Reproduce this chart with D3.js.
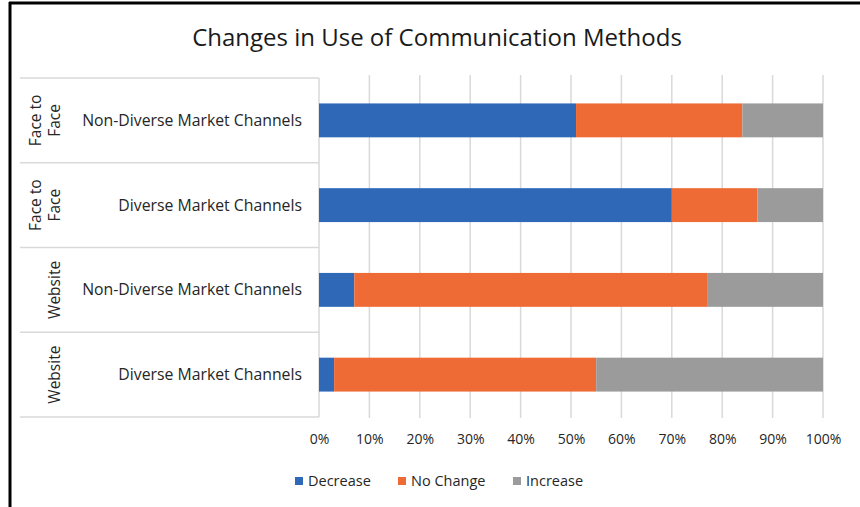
<!DOCTYPE html>
<html>
<head>
<meta charset="utf-8">
<script src="https://cdn.jsdelivr.net/npm/d3@7"></script>
<style>
  html, body { margin: 0; padding: 0; background: #fff; }
  svg { display: block; font-family: "Open Sans", Lato, sans-serif; }
</style>
</head>
<body>
<svg id="chart" width="860" height="507"></svg>
<script>
// Rows from top to bottom: method group and market channel
const groups = ["Face to\nFace", "Face to\nFace", "Website", "Website"];
const categories = ["Non-Diverse Market Channels", "Diverse Market Channels", "Non-Diverse Market Channels", "Diverse Market Channels"];
const seriesNames = ["Decrease", "No Change", "Increase"];
const decrease = [51, 70, 7, 3];
const noChange = [33, 17, 70, 52];
const increase = [16, 13, 23, 45];
const tickValues = [0, 10, 20, 30, 40, 50, 60, 70, 80, 90, 100];
const colors = ["#3068B8", "#EF6B35", "#9B9B9B"];

const svg = d3.select("#chart");
const W = 860, H = 507;
const plot = { left: 319, right: 823, top: 78, bottom: 417 };
const axisBoxLeft = 20;
const textColor = "#262626";

// frame lines along the top and left edge
svg.append("line").attr("x1", 9).attr("x2", W).attr("y1", 3).attr("y2", 3)
  .attr("stroke", "#000").attr("stroke-width", 3);
svg.append("line").attr("x1", 10).attr("x2", 10).attr("y1", 2).attr("y2", H)
  .attr("stroke", "#000").attr("stroke-width", 3);

// title
svg.append("text").attr("x", 437).attr("y", 46).attr("text-anchor", "middle")
  .attr("font-size", 24).attr("fill", "#1a1a1a")
  .text("Changes in Use of Communication Methods");

const rows = categories.map((c, i) => ({
  key: i, group: groups[i], category: c,
  Decrease: decrease[i], "No Change": noChange[i], Increase: increase[i]
}));

const x = d3.scaleLinear().domain([0, 100]).range([plot.left, plot.right]);
const y = d3.scaleBand().domain(rows.map(d => d.key)).range([plot.top, plot.bottom])
  .paddingInner(0.6).paddingOuter(0.3);
const band = d3.scaleBand().domain(rows.map(d => d.key)).range([plot.top, plot.bottom]);
const color = d3.scaleOrdinal().domain(seriesNames).range(colors);

// vertical gridlines
svg.append("g").selectAll("line").data(tickValues.slice(1)).join("line")
  .attr("x1", d => x(d)).attr("x2", d => x(d))
  .attr("y1", plot.top - 3).attr("y2", plot.bottom + 1)
  .attr("stroke", "#d9d9d9").attr("stroke-width", 1.5);

// category axis boxes
const axisG = svg.append("g");
const dividers = [plot.top].concat(rows.map(d => band(d.key) + band.bandwidth()));
axisG.selectAll("line.div").data(dividers).join("line").attr("class", "div")
  .attr("x1", axisBoxLeft).attr("x2", plot.left)
  .attr("y1", d => d).attr("y2", d => d)
  .attr("stroke", "#d9d9d9").attr("stroke-width", 1.5);
axisG.append("line").attr("x1", plot.left).attr("x2", plot.left)
  .attr("y1", plot.top).attr("y2", plot.bottom)
  .attr("stroke", "#d9d9d9").attr("stroke-width", 1.5);

// category labels
axisG.selectAll("text.cat").data(rows).join("text").attr("class", "cat")
  .attr("x", 302).attr("y", d => band(d.key) + band.bandwidth() / 2)
  .attr("dy", "0.35em").attr("text-anchor", "end")
  .attr("font-size", 15.8).attr("fill", textColor)
  .text(d => d.category);

// group labels, rotated
axisG.selectAll("g.grp").data(rows).join("g").attr("class", "grp")
  .attr("transform", d => `translate(0,${band(d.key) + band.bandwidth() / 2})`)
  .each(function(d) {
    const lines = d.group.split("\n");
    const g = d3.select(this);
    lines.forEach((t, j) => {
      const cx = lines.length === 1 ? 55 : 36 + j * 19;
      g.append("text")
        .attr("transform", `translate(${cx},0) rotate(-90)`)
        .attr("text-anchor", "middle").attr("dy", "0.35em")
        .attr("font-size", 15.5).attr("fill", textColor)
        .text(t);
    });
  });

// stacked bars
const stack = d3.stack().keys(seriesNames);
const stacked = stack(rows);
svg.append("g").selectAll("g").data(stacked).join("g")
  .attr("fill", d => color(d.key))
  .selectAll("rect").data(d => d).join("rect")
  .attr("x", d => x(d[0]))
  .attr("width", d => x(d[1]) - x(d[0]))
  .attr("y", d => y(d.data.key))
  .attr("height", y.bandwidth());

// value axis tick labels
const xAxis = d3.axisBottom(x).tickValues(tickValues).tickFormat(d => d + "%").tickSize(0);
const xg = svg.append("g").attr("transform", `translate(0,${plot.bottom + 14})`).call(xAxis);
xg.select(".domain").remove();
xg.selectAll("text").attr("font-size", 14).attr("fill", textColor)
  .attr("font-family", "'Open Sans', Lato, sans-serif");

// legend
const legendX = [295, 398, 513];
const lg = svg.append("g").selectAll("g").data(seriesNames).join("g")
  .attr("transform", (d, i) => `translate(${legendX[i]},477)`);
lg.append("rect").attr("width", 8).attr("height", 8).attr("fill", d => color(d));
lg.append("text").attr("x", 13).attr("y", 4).attr("dy", "0.35em")
  .attr("font-size", 14.5).attr("fill", textColor).text(d => d);
</script>
</body>
</html>
